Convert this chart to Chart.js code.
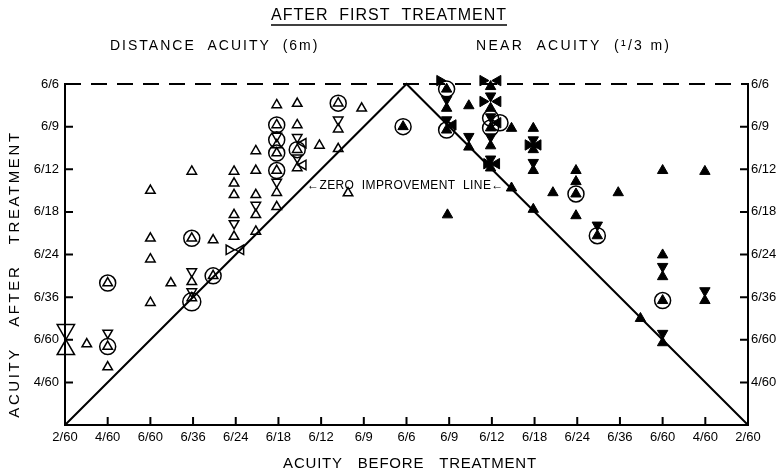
<!DOCTYPE html>
<html>
<head>
<meta charset="utf-8">
<script src="https://cdn.jsdelivr.net/npm/chart.js@4.4.1/dist/chart.umd.min.js"></script>
<style>
  html, body { margin: 0; padding: 0; background: #fff; }
  canvas { display: block; }
</style>
</head>
<body>
<canvas id="acuityChart" width="782" height="474"></canvas>
<script>
// scale steps: 0 = 2/60 ... 8 = 6/6 (distance, left half) ... 16 = 2/60 (near, right half)
const xLabels = ['2/60','4/60','6/60','6/36','6/24','6/18','6/12','6/9','6/6','6/9','6/12','6/18','6/24','6/36','6/60','4/60','2/60'];
const yLabels = ['','4/60','6/60','6/36','6/24','6/18','6/12','6/9','6/6'];

// reference lines
const zeroLine = [[0,0],[8,8],[16,0]];
const topLine = [[0,8],[16,8]];

// distance acuity (open symbols), [before, after]
const distUp = [
  [0.51,1.90],
  [1.0,3.33],[1.0,1.84],[1.0,1.36],
  [2.0,5.5],[2.0,4.38],[2.0,3.89],[2.0,2.87],
  [2.48,3.33],
  [2.97,5.95],[2.97,4.38],[2.97,3.36],[2.97,2.98],
  [3.47,4.34],[3.47,3.5],
  [3.96,5.95],[3.96,5.67],[3.96,5.4],[3.96,4.93],[3.96,4.42],
  [4.47,6.43],[4.47,5.97],[4.47,5.4],[4.47,4.93],[4.47,4.54],
  [4.96,7.51],[4.96,7.04],[4.96,6.57],[4.96,6.38],[4.96,5.97],[4.96,5.45],[4.96,5.12],
  [5.44,7.54],[5.44,7.04],[5.44,6.46],[5.44,6.03],
  [5.96,6.56],
  [6.4,7.55],[6.4,6.94],[6.4,6.48],
  [6.63,5.44],
  [6.95,7.43]
];
const distDown = [
  [1.0,2.16],
  [2.97,3.6],[2.97,3.13],
  [3.96,4.73],
  [4.47,5.16],
  [4.96,6.78],[4.96,5.7],
  [5.44,6.75],[5.44,6.27],
  [6.4,7.16]
];
const distLeft = [[4.12,4.11],[5.58,6.61],[5.58,6.1]];
const distRight = [[3.84,4.11]];
const distRing = [[1.0,3.33],[1.0,1.84],[2.97,4.38],[3.47,3.5],[4.96,7.04],[4.96,6.69],[4.96,6.38],[4.96,5.97],[5.44,6.46],[6.4,7.55]];
const distBigRing = [[2.97,2.89]];
const distBigUp = [[0.02,1.77]];
const distBigDown = [[0.02,2.24]];

// near acuity (filled symbols), [before, after]
const nearUp = [
  [7.92,7.0],
  [8.94,7.88],[8.94,7.43],[8.94,6.92],
  [8.96,4.93],
  [9.46,7.49],[9.46,6.52],
  [9.97,7.94],[9.97,7.43],[9.97,6.97],[9.97,6.55],[9.97,6.03],
  [10.46,6.96],[10.46,5.56],
  [10.97,6.96],[10.97,6.46],[10.97,5.97],[10.97,5.06],
  [11.43,5.45],
  [11.97,5.97],[11.97,5.71],[11.97,5.42],[11.97,4.91],
  [12.47,4.44],
  [12.96,5.45],
  [13.48,2.5],
  [14.0,5.97],[14.0,3.99],[14.0,3.48],[14.0,2.92],[14.0,1.93],
  [14.99,5.95],[14.99,2.92]
];
const nearDown = [
  [8.94,8.22],[8.94,7.64],[8.94,7.16],
  [9.46,6.77],
  [9.97,8.22],[9.97,7.72],[9.97,7.23],[9.97,6.76],[9.97,6.24],
  [10.97,6.69],[10.97,6.16],
  [12.47,4.69],
  [14.0,3.72],[14.0,2.15],
  [14.99,3.15]
];
const nearRight = [[8.78,8.08],[9.79,8.08],[9.79,7.59],[9.88,6.13],[10.85,6.57]];
const nearLeft = [[9.09,7.04],[10.14,8.08],[10.14,7.59],[10.14,7.09],[10.11,6.13],[11.08,6.57]];
const nearRing = [[7.92,7.0],[8.94,7.88],[8.94,6.92],[9.97,7.2],[10.19,7.09],[9.97,6.97],[11.97,5.42],[12.47,4.44],[14.0,2.92]];

const FONT = 'Liberation Sans';
const toPts = a => a.map(p => ({x: p[0], y: p[1]}));

function marks(label, data, style, rotation, radius, filled) {
  return {
    label: label,
    data: toPts(data),
    showLine: false,
    clip: false,
    pointStyle: style,
    pointRotation: rotation,
    pointRadius: radius,
    pointHoverRadius: radius,
    pointBorderColor: '#000',
    pointBackgroundColor: filled ? '#000' : 'rgba(0,0,0,0)',
    pointBorderWidth: filled ? 1 : 1.5
  };
}

function refLine(label, data, dash) {
  return {
    type: 'line',
    label: label,
    data: toPts(data),
    showLine: true,
    clip: false,
    borderColor: '#000',
    borderWidth: 2,
    borderDash: dash,
    pointRadius: 0,
    fill: false
  };
}

const inwardTicks = {
  id: 'inwardTicks',
  afterDatasetsDraw(chart) {
    const {ctx, chartArea: a, scales: {x, y}} = chart;
    ctx.save();
    ctx.strokeStyle = '#000';
    ctx.lineWidth = 2;
    ctx.beginPath();
    for (let i = 1; i < yLabels.length - 1; i++) {
      const py = y.getPixelForValue(i);
      ctx.moveTo(a.left, py); ctx.lineTo(a.left + 8, py);
      ctx.moveTo(a.right - 8, py); ctx.lineTo(a.right, py);
    }
    for (let i = 1; i < xLabels.length - 1; i++) {
      const px = x.getPixelForValue(i);
      ctx.moveTo(px, a.bottom); ctx.lineTo(px, a.bottom - 8);
    }
    ctx.stroke();
    ctx.restore();
  }
};

const captions = {
  id: 'captions',
  beforeDraw(chart) {
    const ctx = chart.ctx;
    ctx.save();
    ctx.fillStyle = '#fff';
    ctx.fillRect(0, 0, chart.width, chart.height);
    ctx.restore();
  },
  afterDraw(chart) {
    const ctx = chart.ctx;
    ctx.save();
    ctx.fillStyle = '#000';
    ctx.strokeStyle = '#000';
    ctx.textBaseline = 'middle';
    ctx.textAlign = 'center';

    // title, underlined
    ctx.font = '16px "' + FONT + '"';
    ctx.letterSpacing = '1px';
    const title = 'AFTER  FIRST  TREATMENT';
    ctx.fillText(title, 389, 16);
    const tw = ctx.measureText(title).width;
    ctx.lineWidth = 1.5;
    ctx.beginPath();
    ctx.moveTo(389 - tw / 2, 25); ctx.lineTo(389 + tw / 2, 25);
    ctx.stroke();

    // panel headings
    ctx.font = '14px "' + FONT + '"';
    ctx.textAlign = 'left';
    ctx.letterSpacing = '2px';
    ctx.fillText('DISTANCE  ACUITY  (6m)', 110, 46);
    ctx.letterSpacing = '2.3px';
    ctx.fillText('NEAR  ACUITY  (\u00B9/3 m)', 476, 46);

    // axis titles
    ctx.font = '15px "' + FONT + '"';
    ctx.textAlign = 'center';
    ctx.letterSpacing = '0.8px';
    ctx.fillText('ACUITY   BEFORE   TREATMENT', 410, 464);
    ctx.save();
    ctx.letterSpacing = '2.6px';
    ctx.translate(15, 274);
    ctx.rotate(-Math.PI / 2);
    ctx.fillText('ACUITY   AFTER   TREATMENT', 0, 0);
    ctx.restore();

    // zero improvement label
    ctx.font = '12px "' + FONT + '"';
    ctx.letterSpacing = '0.4px';
    ctx.textAlign = 'left';
    ctx.fillText('\u2190ZERO  IMPROVEMENT  LINE\u2190', 307, 186);
    ctx.restore();
  }
};

new Chart(document.getElementById('acuityChart').getContext('2d'), {
  type: 'scatter',
  data: {
    datasets: [
      refLine('6/6', topLine, [16, 10]),
      refLine('Zero improvement line', zeroLine, []),
      marks('Distance', distUp, 'triangle', 0, 5.5, false),
      marks('Distance', distDown, 'triangle', 180, 5.5, false),
      marks('Distance', distLeft, 'triangle', 270, 5.5, false),
      marks('Distance', distRight, 'triangle', 90, 5.5, false),
      marks('Distance', distRing, 'circle', 0, 8, false),
      marks('Distance', distBigRing, 'circle', 0, 9, false),
      marks('Distance', distBigUp, 'triangle', 0, 10, false),
      marks('Distance', distBigDown, 'triangle', 180, 10, false),
      marks('Near', nearUp, 'triangle', 0, 6, true),
      marks('Near', nearDown, 'triangle', 180, 6, true),
      marks('Near', nearLeft, 'triangle', 270, 6, true),
      marks('Near', nearRight, 'triangle', 90, 6, true),
      marks('Near', nearRing, 'circle', 0, 8, false)
    ]
  },
  options: {
    responsive: false,
    animation: false,
    devicePixelRatio: 1,
    layout: { padding: { top: 84, left: 0, right: 0, bottom: 0 } },
    plugins: {
      legend: { display: false },
      tooltip: { enabled: false },
      title: { display: false }
    },
    scales: {
      x: {
        type: 'linear',
        min: 0,
        max: 16,
        afterFit(scale) { scale.height = 49; },
        grid: { display: false, drawTicks: false },
        border: { display: true, color: '#000', width: 2 },
        ticks: {
          stepSize: 1,
          autoSkip: false,
          maxRotation: 0,
          padding: 5,
          color: '#000',
          font: { family: FONT, size: 13 },
          callback: v => xLabels[v]
        }
      },
      y: {
        type: 'linear',
        position: 'left',
        min: 0,
        max: 8,
        afterFit(scale) { scale.width = 65; },
        grid: { display: false, drawTicks: false },
        border: { display: true, color: '#000', width: 2 },
        ticks: {
          stepSize: 1,
          padding: 6,
          color: '#000',
          font: { family: FONT, size: 13 },
          callback: v => yLabels[v]
        }
      },
      y2: {
        type: 'linear',
        position: 'right',
        min: 0,
        max: 8,
        afterFit(scale) { scale.width = 34; },
        grid: { display: false, drawTicks: false },
        border: { display: true, color: '#000', width: 2 },
        ticks: {
          stepSize: 1,
          padding: 3,
          color: '#000',
          font: { family: FONT, size: 13 },
          callback: v => yLabels[v]
        }
      }
    }
  },
  plugins: [inwardTicks, captions]
});
</script>
</body>
</html>
